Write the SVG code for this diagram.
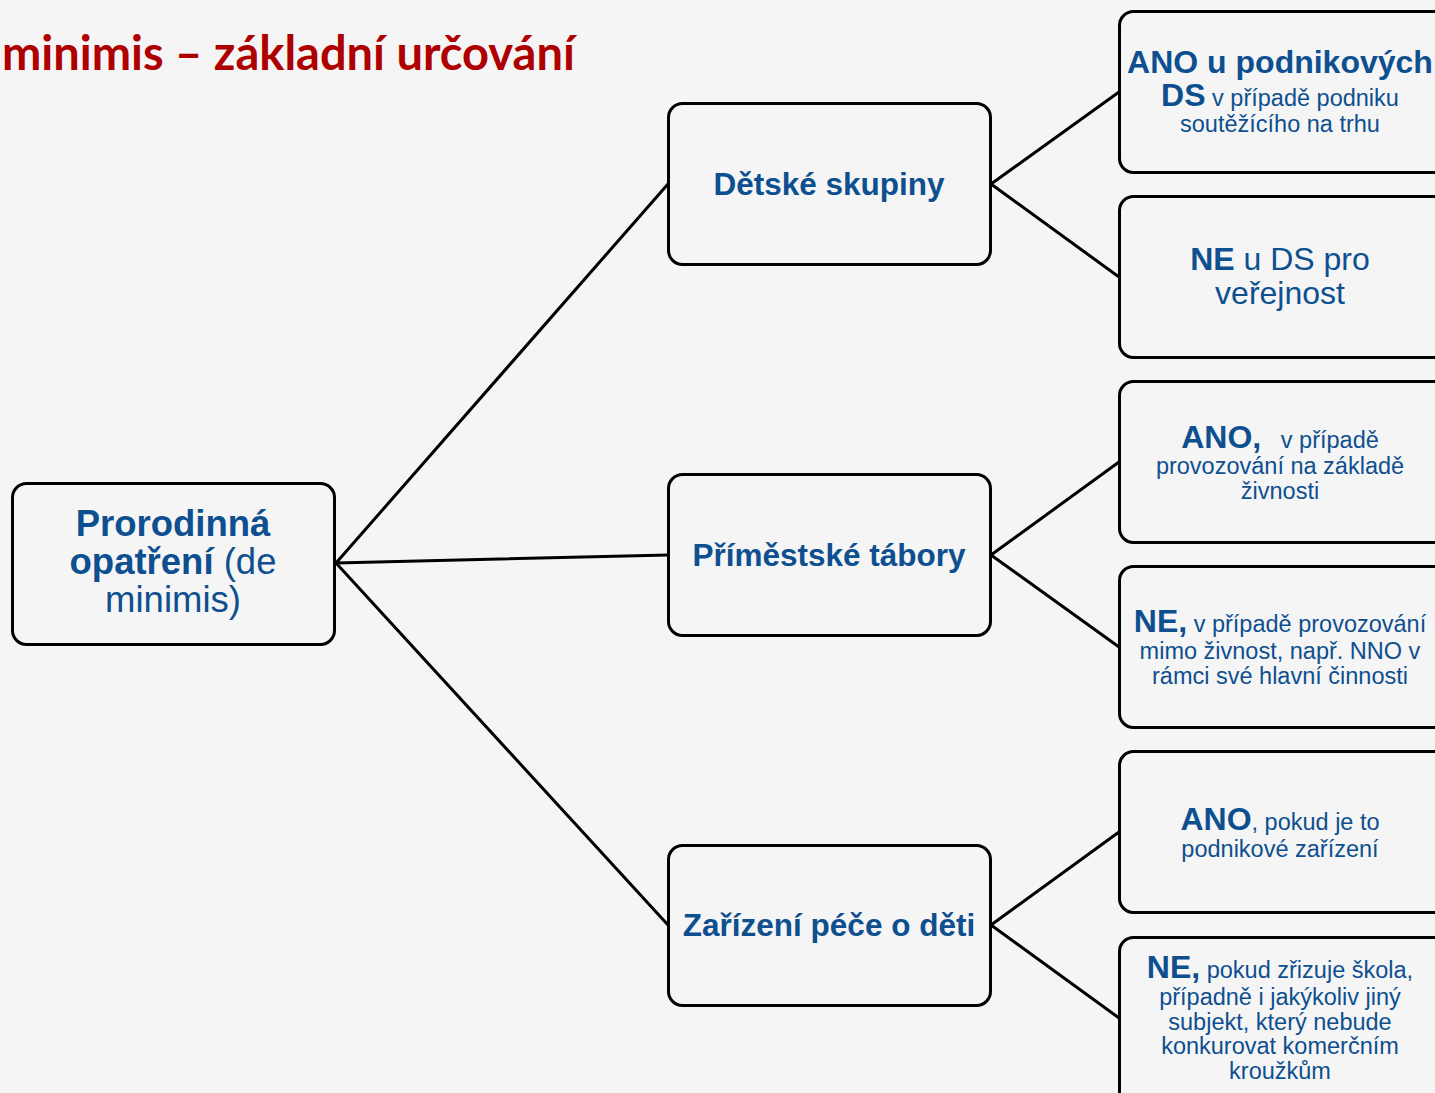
<svg xmlns="http://www.w3.org/2000/svg" width="1435" height="1093" viewBox="0 0 1435 1093">
<style>
.box{fill:#f5f5f5;stroke:#000;stroke-width:3}
.c{stroke:#000;stroke-width:3;fill:none}
text{font-family:"Liberation Sans",Arial,sans-serif;fill:#0d4f8f;text-anchor:middle}
.b{font-weight:bold}
.s{font-size:23.5px}
.m{font-size:32px}
.t{font-family:Lato,"Open Sans",sans-serif;font-weight:bold;fill:#ae0000;font-size:47px;text-anchor:start}
</style>
<rect width="1435" height="1093" fill="#f5f5f5"/>
<text class="t" x="2" y="70">minimis – základní určování</text>
<g id="connectors">
<path class="c" d="M336 563 L668 184 M336 563 L668 555 M336 563 L668 925"/>
<path class="c" d="M991 184 L1119 92 M991 184 L1119 277"/>
<path class="c" d="M991 555 L1119 462 M991 555 L1119 647"/>
<path class="c" d="M991 925 L1119 832 M991 925 L1119 1018"/>
</g>
<g id="root">
<rect class="box" x="12.5" y="483.5" width="322" height="161" rx="14"/>
<text class="b" font-size="36.5" x="173" y="536">Prorodinná</text>
<text font-size="36.5" x="173" y="574"><tspan class="b">opatření</tspan> (de</text>
<text font-size="36.5" x="173" y="612">minimis)</text>
</g>
<g id="ds">
<rect class="box" x="668.5" y="103.5" width="322" height="161" rx="14"/>
<text class="b" font-size="31.5" x="829" y="195">Dětské skupiny</text>
</g>
<g id="pt">
<rect class="box" x="668.5" y="474.5" width="322" height="161" rx="14"/>
<text class="b" font-size="31.5" x="829" y="566">Příměstské tábory</text>
</g>
<g id="zpd">
<rect class="box" x="668.5" y="845.5" width="322" height="160" rx="14"/>
<text class="b" font-size="31.5" x="829" y="936">Zařízení péče o děti</text>
</g>
<g id="ds-ano">
<rect class="box" x="1119.5" y="11.5" width="330" height="161" rx="14"/>
<text class="b m" x="1280" y="73">ANO u podnikových</text>
<text class="s" x="1280" y="106"><tspan class="b m">DS</tspan> v případě podniku</text>
<text class="s" x="1280" y="132">soutěžícího na trhu</text>
</g>
<g id="ds-ne">
<rect class="box" x="1119.5" y="196.5" width="330" height="161" rx="14"/>
<text class="m" x="1280" y="270"><tspan class="b">NE</tspan> u DS pro</text>
<text class="m" x="1280" y="304">veřejnost</text>
</g>
<g id="pt-ano">
<rect class="box" x="1119.5" y="381.5" width="330" height="161" rx="14"/>
<text class="s" x="1280" y="448" style="white-space:pre"><tspan class="b m">ANO,</tspan>   v případě</text>
<text class="s" x="1280" y="474">provozování na základě</text>
<text class="s" x="1280" y="499">živnosti</text>
</g>
<g id="pt-ne">
<rect class="box" x="1119.5" y="566.5" width="330" height="161" rx="14"/>
<text class="s" x="1280" y="632"><tspan class="b m">NE,</tspan> v případě provozování</text>
<text class="s" x="1280" y="659">mimo živnost, např. NNO v</text>
<text class="s" x="1280" y="684">rámci své hlavní činnosti</text>
</g>
<g id="zpd-ano">
<rect class="box" x="1119.5" y="751.5" width="330" height="161" rx="14"/>
<text class="s" x="1280" y="830"><tspan class="b m">ANO</tspan>, pokud je to</text>
<text class="s" x="1280" y="857">podnikové zařízení</text>
</g>
<g id="zpd-ne">
<rect class="box" x="1119.5" y="937.5" width="330" height="170" rx="14"/>
<text class="s" x="1280" y="978"><tspan class="b m">NE,</tspan> pokud zřizuje škola,</text>
<text class="s" x="1280" y="1005">případně i jakýkoliv jiný</text>
<text class="s" x="1280" y="1030">subjekt, který nebude</text>
<text class="s" x="1280" y="1054">konkurovat komerčním</text>
<text class="s" x="1280" y="1079">kroužkům</text>
</g>
</svg>
